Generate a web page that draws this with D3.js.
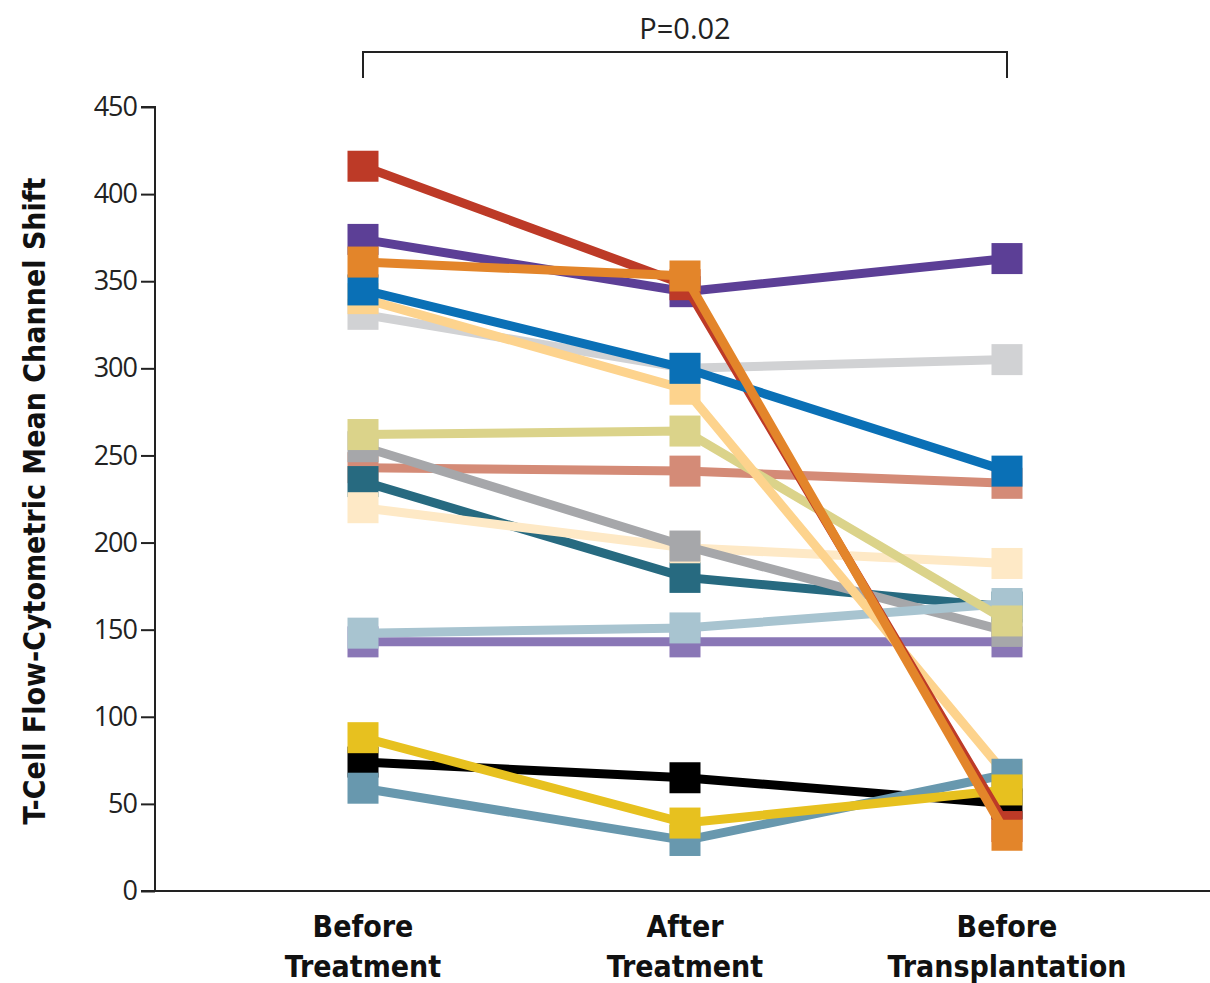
<!DOCTYPE html>
<html>
<head>
<meta charset="utf-8">
<script src="https://cdn.jsdelivr.net/npm/d3@7"></script>
<style>
  html, body { margin: 0; padding: 0; background: #fff; }
  svg { display: block; }
</style>
</head>
<body>
<svg id="chart" width="1210" height="983"></svg>
<script>
// Time points on the x axis
const timepoints = ["Before Treatment", "After Treatment", "Before Transplantation"];
const timeLabelLines = [["Before", "Treatment"], ["After", "Treatment"], ["Before", "Transplantation"]];

// Y-axis ticks
const yTicks = [0, 50, 100, 150, 200, 250, 300, 350, 400, 450];

// Per-patient mean channel shift at each time point (drawn bottom to top)
const lavender   = [143, 143, 143];
const salmon     = [243, 241, 234];
const tealDark   = [235, 180, 163];
const palePeach  = [220, 197, 188];
const grey       = [255, 198, 149];
const lightBlue  = [148, 151, 165];
const khaki      = [262, 264, 155];
const lightGrey  = [331, 300, 305];
const lightOrange = [340, 288, 66];
const black      = [74, 65, 50];
const steelBlue  = [59, 29, 67];
const yellow     = [88, 39, 58];
const purple     = [374, 344, 363];
const red        = [416, 348, 37];
const blue       = [345, 300, 241];
const orange     = [361, 353, 32];

const series = [
  { values: lavender,    color: "#8a77b6" },
  { values: salmon,      color: "#d48b77" },
  { values: tealDark,    color: "#276a80" },
  { values: palePeach,   color: "#fee9c6" },
  { values: grey,        color: "#a6a7aa" },
  { values: lightBlue,   color: "#a8c4d0" },
  { values: khaki,       color: "#dbd38a" },
  { values: lightGrey,   color: "#d1d2d4" },
  { values: lightOrange, color: "#fdd38d" },
  { values: black,       color: "#000000" },
  { values: steelBlue,   color: "#6898ae" },
  { values: yellow,      color: "#e7c11f" },
  { values: purple,      color: "#5c3f96" },
  { values: red,         color: "#bd3a27" },
  { values: blue,        color: "#0a70b6" },
  { values: orange,      color: "#e3852a" }
];

const pLabel = "P=0.02";
const yTitle = "T-Cell Flow-Cytometric Mean Channel Shift";

const svg = d3.select("#chart");

const plot = { left: 155, right: 1210, top: 107, bottom: 891 };

const x = d3.scalePoint()
  .domain(timepoints)
  .range([363, 1007]);

const y = d3.scaleLinear()
  .domain([0, 450])
  .range([plot.bottom, plot.top]);

// Y axis
const yAxis = d3.axisLeft(y).tickValues(yTicks).tickSize(14).tickPadding(4).tickFormat(d3.format("d"));
const yg = svg.append("g")
  .attr("transform", `translate(${plot.left},0)`)
  .call(yAxis);
yg.select(".domain").attr("stroke", "#222").attr("stroke-width", 2).attr("d", `M-14,${plot.top}H0V${plot.bottom}`);
yg.selectAll(".tick line").attr("stroke", "#222").attr("stroke-width", 2);
yg.selectAll(".tick text")
  .attr("font-family", "'Open Sans', 'DejaVu Sans', sans-serif")
  .attr("font-size", 27)
  .attr("letter-spacing", -1)
  .attr("fill", "#222");

// X axis baseline
svg.append("line")
  .attr("x1", plot.left - 14).attr("x2", plot.right)
  .attr("y1", plot.bottom).attr("y2", plot.bottom)
  .attr("stroke", "#222").attr("stroke-width", 2);

// X category labels
const xl = svg.append("g")
  .attr("font-family", "'DejaVu Sans Condensed', 'DejaVu Sans', sans-serif")
  .attr("font-weight", "bold")
  .attr("font-size", 30)
  .attr("fill", "#111")
  .attr("text-anchor", "middle");
timepoints.forEach((t, i) => {
  timeLabelLines[i].forEach((line, j) => {
    xl.append("text")
      .attr("x", x(t))
      .attr("y", 937 + j * 40)
      .text(line);
  });
});

// Y title
svg.append("text")
  .attr("transform", `translate(45,${(plot.top + plot.bottom) / 2 + 2}) rotate(-90)`)
  .attr("text-anchor", "middle")
  .attr("font-family", "'DejaVu Sans Condensed', 'DejaVu Sans', sans-serif")
  .attr("font-weight", "bold")
  .attr("font-size", 30)
  .attr("fill", "#111")
  .text(yTitle);

// Significance bracket
const bx1 = x(timepoints[0]), bx2 = x(timepoints[2]);
svg.append("path")
  .attr("d", `M${bx1},78V52H${bx2}V78`)
  .attr("fill", "none")
  .attr("stroke", "#222")
  .attr("stroke-width", 2);
svg.append("text")
  .attr("x", (bx1 + bx2) / 2)
  .attr("y", 39)
  .attr("text-anchor", "middle")
  .attr("font-family", "'Open Sans', 'DejaVu Sans', sans-serif")
  .attr("font-size", 29)
  .attr("fill", "#222")
  .text(pLabel);

// Patient trajectories
const line = d3.line()
  .x((d, i) => x(timepoints[i]))
  .y(d => y(d));

const marker = 31;
series.forEach(s => {
  const g = svg.append("g");
  g.append("path")
    .attr("d", line(s.values))
    .attr("fill", "none")
    .attr("stroke", s.color)
    .attr("stroke-width", 9);
  g.selectAll("rect")
    .data(s.values)
    .join("rect")
    .attr("x", (d, i) => x(timepoints[i]) - marker / 2)
    .attr("y", d => y(d) - marker / 2)
    .attr("width", marker)
    .attr("height", marker)
    .attr("fill", s.color);
});
</script>
</body>
</html>
